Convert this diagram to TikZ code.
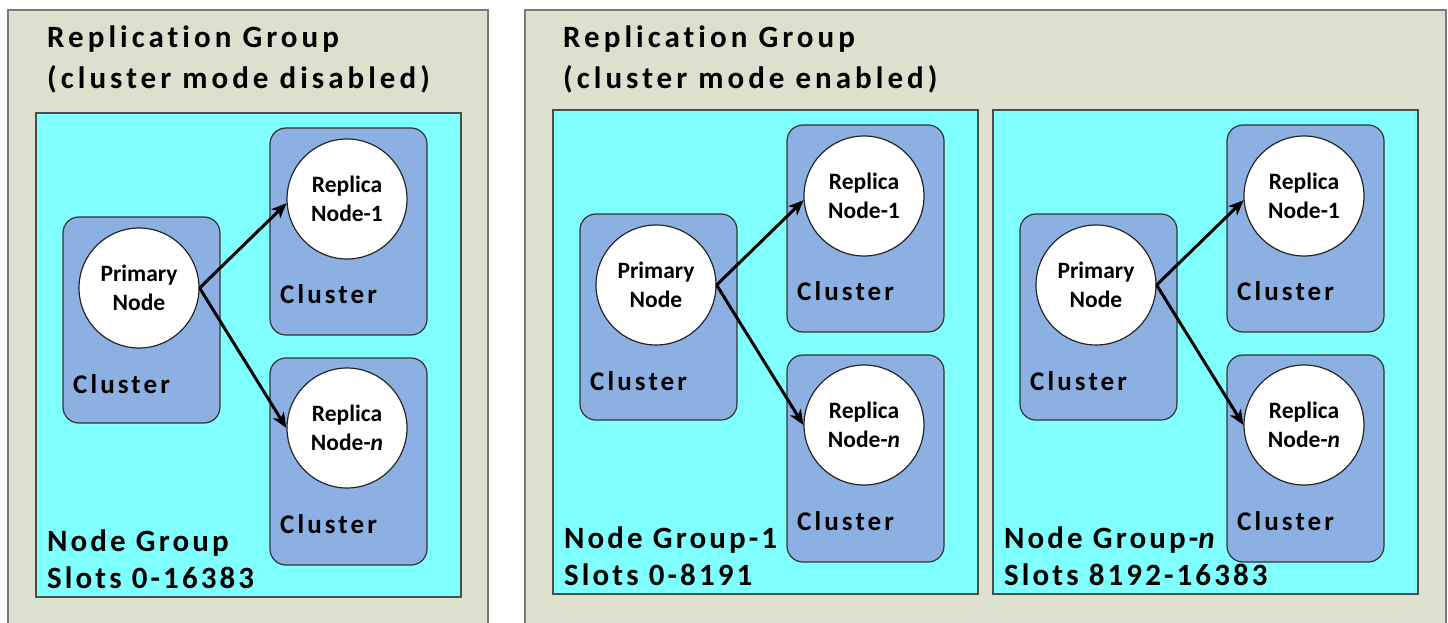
\documentclass[tikz,border=0pt]{standalone}
\usepackage{fontspec}
\setmainfont{Carlito}
\newfontfamily\spaced[LetterSpace=10,Ligatures=NoCommon]{Carlito}
\newfontfamily\spacedwide[LetterSpace=13,Ligatures=NoCommon]{Carlito}
\newfontfamily\spacedmid[LetterSpace=11.5,Ligatures=NoCommon]{Carlito}
\usetikzlibrary{arrows.meta}
\definecolor{outerfill}{RGB}{221,224,205}
\definecolor{outerdraw}{RGB}{120,120,120}
\definecolor{cyanfill}{RGB}{128,255,255}
\definecolor{clusterfill}{RGB}{141,176,226}
\tikzset{
 outerbox/.style={draw=outerdraw, fill=outerfill, line width=1.5pt},
 groupbox/.style={draw=black!70, fill=cyanfill, line width=1.2pt},
 clusterbox/.style={draw=black!80, fill=clusterfill, line width=1.2pt, rounded corners=16pt, minimum width=157pt, inner sep=0pt},
 nodecircle/.style={circle, draw=black!85, fill=white, line width=1.2pt, minimum size=120pt, inner sep=0pt, align=center, font=\fontsize{23.5}{28.5}\selectfont\bfseries},
 titlelabel/.style={anchor=base west, inner sep=0pt, font=\spacedwide\fontsize{31}{41}\selectfont\bfseries},
 biglabel/.style={anchor=base west, inner sep=0pt, font=\spaced\fontsize{31}{41}\selectfont\bfseries},
 clusterlabel/.style={anchor=base west, inner sep=0pt, font=\spacedmid\fontsize{27}{32}\selectfont\bfseries},
 link/.style={-{Stealth[length=15pt,width=12.5pt,inset=4pt]}, line width=3pt},
}
\newcommand\panelgroup[5]{%
\begin{scope}[shift={(#1,#2)}]
 \draw[groupbox] (0,0) rectangle (425,484);
 \node[clusterbox, minimum height=206pt] (#3pc) at (105.5,207) {};
 \node[clusterbox, minimum height=207pt] (#3ca) at (312.5,118.5) {};
 \node[clusterbox, minimum height=207pt] (#3cb) at (312.5,348.5) {};
 \node[nodecircle] (#3p) at (103,175) {Primary\\Node};
 \node[nodecircle] (#3ra) at (311,86) {Replica\\Node-1};
 \node[nodecircle] (#3rb) at (311,315) {Replica\\Node-{\itshape n}};
 \draw[link] (#3p.east) -- (#3ra.184);
 \draw[link] (#3p.east) -- (#3rb.west);
 \node[clusterlabel] (#3lp) at (37,280) {Cluster};
 \node[clusterlabel] (#3la) at (244,190) {Cluster};
 \node[clusterlabel] (#3lb) at (244,420) {Cluster};
 \node[biglabel] (#3g) at (11,438) {#4};
 \node[biglabel] (#3s) at (11,475) {#5};
\end{scope}}
\begin{document}
\begin{tikzpicture}[x=1pt,y=-1pt]
\useasboundingbox (0,0) rectangle (1448,623);
\fill[white] (0,0) rectangle (1448,623);
\draw[outerbox] (8,10) rectangle (488,640);
\draw[outerbox] (525,10) rectangle (1446,640);
\node[titlelabel] (t1a) at (47,48) {Replication Group};
\node[titlelabel] (t1b) at (47,89) {(cluster mode disabled)};
\node[titlelabel] (t2a) at (563,48) {Replication Group};
\node[titlelabel] (t2b) at (563,89) {(cluster mode enabled)};
\panelgroup{36}{113}{L}{Node Group}{Slots 0-16383}
\panelgroup{553}{110}{M}{Node Group-1}{Slots 0-8191}
\panelgroup{993}{110}{R}{Node Group-{\itshape n}}{Slots 8192-16383}
\end{tikzpicture}
\end{document}
